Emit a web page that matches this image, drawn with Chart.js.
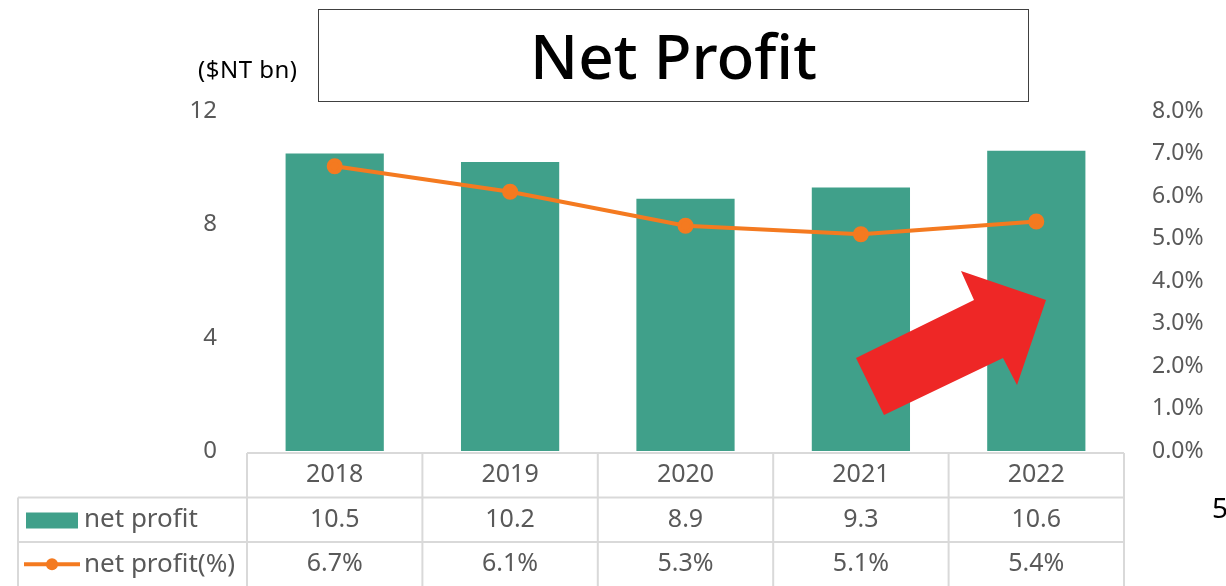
<!DOCTYPE html>
<html lang="en">
<head>
  <meta charset="UTF-8">
  <title>Net Profit</title>
  <script src="https://cdn.jsdelivr.net/npm/chart.js"></script>
  <style>
    body { margin: 0; background: #fff; }
    .wrap { position: relative; width: 1226px; height: 586px; overflow: hidden; }
    .title-box {
      position: absolute; left: 318px; top: 9px; width: 709px; height: 91px;
      border: 1px solid #404040; box-sizing: content-box;
      font-family: "Noto Sans", sans-serif; font-size: 62px; font-weight: 500;
      text-align: center; line-height: 91px; color: #000;
    }
    .unit {
      position: absolute; left: 198px; top: 52px;
      font-family: "Noto Sans", sans-serif; font-size: 24px; color: #000;
      letter-spacing: 0.5px;
    }
    .stray {
      position: absolute; left: 1212px; top: 488px;
      font-family: "Noto Sans", sans-serif; font-size: 28px; color: #000;
    }
  </style>
</head>
<body>
<div class="wrap">
  <canvas id="chart" width="1226" height="586"></canvas>
  <div class="title-box">Net Profit</div>
  <div class="unit">($NT bn)</div>
  <div class="stray">5</div>
</div>
<script>
  const years = ['2018', '2019', '2020', '2021', '2022'];
  const netProfit = [10.5, 10.2, 8.9, 9.3, 10.6];
  const netProfitPct = [6.7, 6.1, 5.3, 5.1, 5.4];
  const leftTicks = [0, 4, 8, 12];

  const green = '#40A08A';
  const orange = '#F47A20';
  const grey = '#595959';
  const lineGrey = '#D9D9D9';
  const font = '"Noto Sans", sans-serif';

  // data table under the plot, plus the red arrow
  const extras = {
    id: 'extras',
    afterDraw(chart) {
      const ctx = chart.ctx;
      const x = chart.scales.x;
      const area = chart.chartArea;
      const top = area.bottom + 2;
      const rowH = 44.5;
      const labelLeft = 18;
      const n = years.length;
      const edges = [];
      for (let i = 0; i <= n; i++) {
        edges.push(i === 0 ? area.left : i === n ? area.right :
          (x.getPixelForValue(i - 1) + x.getPixelForValue(i)) / 2);
      }
      ctx.save();
      ctx.strokeStyle = lineGrey;
      ctx.lineWidth = 2;
      ctx.beginPath();
      ctx.moveTo(area.left, top); ctx.lineTo(area.right, top);
      ctx.moveTo(labelLeft, top + rowH); ctx.lineTo(area.right, top + rowH);
      ctx.moveTo(labelLeft, top + 2 * rowH); ctx.lineTo(area.right, top + 2 * rowH);
      edges.forEach(e => { ctx.moveTo(e, top); ctx.lineTo(e, chart.height); });
      ctx.moveTo(labelLeft, top + rowH); ctx.lineTo(labelLeft, chart.height);
      ctx.stroke();

      ctx.fillStyle = grey;
      ctx.font = '25px ' + font;
      ctx.textAlign = 'center';
      ctx.textBaseline = 'middle';
      years.forEach((y, i) => {
        const cx = x.getPixelForValue(i);
        ctx.fillText(y, cx, top + rowH / 2);
        ctx.fillText(netProfit[i].toFixed(1), cx, top + rowH * 1.5);
        ctx.fillText(netProfitPct[i].toFixed(1) + '%', cx, top + rowH * 2.5);
      });

      // legend keys
      ctx.fillStyle = green;
      ctx.fillRect(26, top + rowH + 15, 52, 16);
      ctx.strokeStyle = orange;
      ctx.lineWidth = 4;
      ctx.beginPath();
      ctx.moveTo(24, top + rowH * 2.5); ctx.lineTo(80, top + rowH * 2.5);
      ctx.stroke();
      ctx.fillStyle = orange;
      ctx.beginPath();
      ctx.arc(52, top + rowH * 2.5, 6, 0, Math.PI * 2);
      ctx.fill();
      ctx.fillStyle = grey;
      ctx.textAlign = 'left';
      ctx.font = '26px ' + font;
      ctx.fillText('net profit', 84, top + rowH * 1.5);
      ctx.fillText('net profit(%)', 84, top + rowH * 2.5);

      // red arrow
      ctx.fillStyle = '#EE2726';
      ctx.beginPath();
      ctx.moveTo(856, 358);
      ctx.lineTo(884, 415);
      ctx.lineTo(1003, 358);
      ctx.lineTo(1017, 385);
      ctx.lineTo(1046, 300);
      ctx.lineTo(961, 271);
      ctx.lineTo(974, 300);
      ctx.closePath();
      ctx.fill();
      ctx.restore();
    }
  };

  new Chart(document.getElementById('chart'), {
    data: {
      labels: years,
      datasets: [
        {
          type: 'line',
          label: 'net profit(%)',
          data: netProfitPct,
          yAxisID: 'y1',
          borderColor: orange,
          backgroundColor: orange,
          borderWidth: 4,
          pointRadius: 6,
          pointHoverRadius: 6,
          tension: 0,
          order: 0
        },
        {
          type: 'bar',
          label: 'net profit',
          data: netProfit,
          yAxisID: 'y',
          backgroundColor: green,
          categoryPercentage: 1,
          barPercentage: 0.56,
          order: 1
        }
      ]
    },
    options: {
      responsive: false,
      animation: false,
      layout: { padding: { top: 111, bottom: 135, left: 0, right: 0 } },
      plugins: { legend: { display: false }, tooltip: { enabled: false } },
      scales: {
        x: { display: false, offset: true },
        y: {
          position: 'left',
          min: 0, max: 12,
          afterBuildTicks: s => { s.ticks = leftTicks.map(v => ({ value: v })); },
          afterFit: s => { s.width = 247; },
          grid: { display: false },
          border: { display: false },
          ticks: { color: grey, font: { family: font, size: 24 }, padding: 22 }
        },
        y1: {
          position: 'right',
          min: 0, max: 8,
          afterFit: s => { s.width = 102; },
          grid: { display: false },
          border: { display: false },
          ticks: {
            stepSize: 1,
            color: grey,
            font: { family: font, size: 23 },
            padding: 20,
            callback: v => v.toFixed(1) + '%'
          }
        }
      }
    },
    plugins: [extras]
  });
</script>
</body>
</html>
